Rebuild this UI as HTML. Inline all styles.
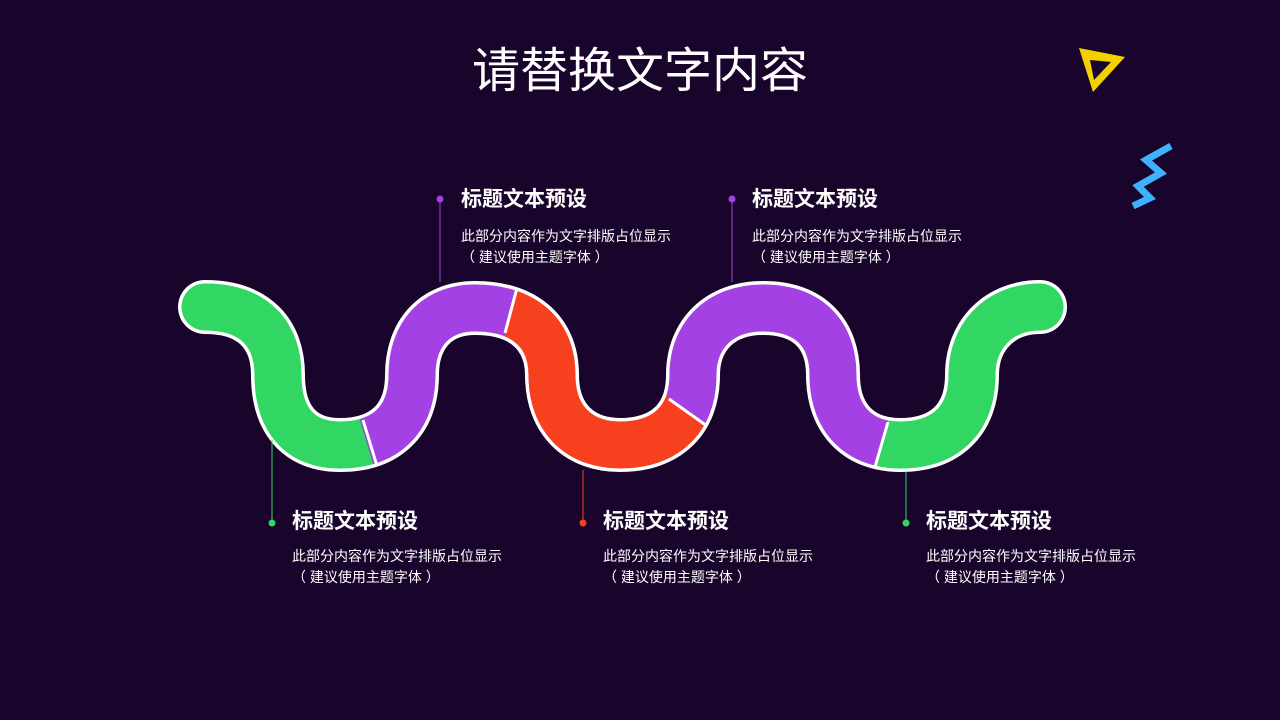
<!DOCTYPE html>
<html><head><meta charset="utf-8"><style>
body{margin:0;width:1280px;height:720px;background:#19042b;overflow:hidden;position:relative;font-family:"Liberation Sans","Noto Sans CJK SC",sans-serif;color:#fff}
.t{position:absolute;font-weight:bold;font-size:21px;line-height:24px;white-space:nowrap}
.d{position:absolute;font-size:14px;line-height:21px;white-space:nowrap}
h1{position:absolute;left:0;width:1280px;top:40px;margin:0;text-align:center;font-weight:normal;font-size:48px;line-height:64px}
</style></head><body>
<svg width="1280" height="720" style="position:absolute;left:0;top:0">
<defs>
<path id="w" d="M205,307 C255,307 278,335 278,375 C278,420 300,445 340,445 C385,445 412,420 412,375 C412,335 435,308 475,308 C520,308 552,330 552,375 C552,420 580,445 620,445 C665,445 693,420 693,375 C693,335 720,308 763,308 C810,308 833,335 833,375 C833,420 860,445 900,445 C945,445 972,420 972,375 C972,335 1000,307 1040,307" fill="none"/>
<clipPath id="cg"><polygon points="0,0 400,0 370,440 378,480 378,720 0,720"/></clipPath>
<clipPath id="cp1"><polygon points="360,420 378,480 600,480 505,335 520,280 520,0 300,0"/></clipPath>
<clipPath id="cr"><polygon points="520,280 505,335 560,480 690,480 710,428 668,398 700,200 520,200"/></clipPath>
<clipPath id="cp2"><polygon points="668,398 710,428 760,480 873,480 888,422 900,200 660,200"/></clipPath>
<clipPath id="cg2"><polygon points="888,422 873,480 1200,480 1200,200 900,200"/></clipPath>
</defs>
<path d="M1079,48 L1125,57 L1093,92 Z M1090,60 L1094,80 L1111,62 Z" fill="#f5d000" fill-rule="evenodd"/>
<polyline points="1171,146 1146,160 1161,173 1138,186 1150,198 1133,206" fill="none" stroke="#3fb2ff" stroke-width="7"/>
<use href="#w" stroke="#fff" stroke-width="54" stroke-linecap="round"/>
<g stroke-width="47" stroke-linecap="round">
<use href="#w" stroke="#32d663" clip-path="url(#cg)"/>
<use href="#w" stroke="#a341e4" clip-path="url(#cp1)"/>
<use href="#w" stroke="#f7401e" clip-path="url(#cr)"/>
<use href="#w" stroke="#a341e4" clip-path="url(#cp2)"/>
<use href="#w" stroke="#32d663" clip-path="url(#cg2)"/>
</g>
<g stroke="#fff" stroke-width="3">
<line x1="363" y1="420" x2="377" y2="466"/>
<line x1="517" y1="288" x2="505" y2="333"/>
<line x1="669" y1="399" x2="707" y2="426"/>
<line x1="888" y1="422" x2="875" y2="467"/>
</g>
<g stroke-width="1">
<line x1="440" y1="200" x2="440" y2="282" stroke="#a341e4"/>
<line x1="732" y1="200" x2="732" y2="282" stroke="#a341e4"/>
<line x1="272" y1="440" x2="272" y2="523" stroke="#32d663"/>
<line x1="583" y1="470" x2="583" y2="523" stroke="#f7401e"/>
<line x1="906" y1="472" x2="906" y2="523" stroke="#32d663"/>
</g>
<circle cx="440" cy="199" r="3.5" fill="#a341e4"/>
<circle cx="732" cy="199" r="3.5" fill="#a341e4"/>
<circle cx="272" cy="523" r="3.5" fill="#32d663"/>
<circle cx="583" cy="523" r="3.5" fill="#f7401e"/>
<circle cx="906" cy="523" r="3.5" fill="#32d663"/>
</svg>
<h1>请替换文字内容</h1>
<div class="t" style="left:461px;top:188px">标题文本预设</div>
<div class="d" style="left:461px;top:226px">此部分内容作为文字排版占位显示<br>（ 建议使用主题字体 ）</div>
<div class="t" style="left:752px;top:188px">标题文本预设</div>
<div class="d" style="left:752px;top:226px">此部分内容作为文字排版占位显示<br>（ 建议使用主题字体 ）</div>
<div class="t" style="left:292px;top:510px">标题文本预设</div>
<div class="d" style="left:292px;top:546px">此部分内容作为文字排版占位显示<br>（ 建议使用主题字体 ）</div>
<div class="t" style="left:603px;top:510px">标题文本预设</div>
<div class="d" style="left:603px;top:546px">此部分内容作为文字排版占位显示<br>（ 建议使用主题字体 ）</div>
<div class="t" style="left:926px;top:510px">标题文本预设</div>
<div class="d" style="left:926px;top:546px">此部分内容作为文字排版占位显示<br>（ 建议使用主题字体 ）</div>
</body></html>
